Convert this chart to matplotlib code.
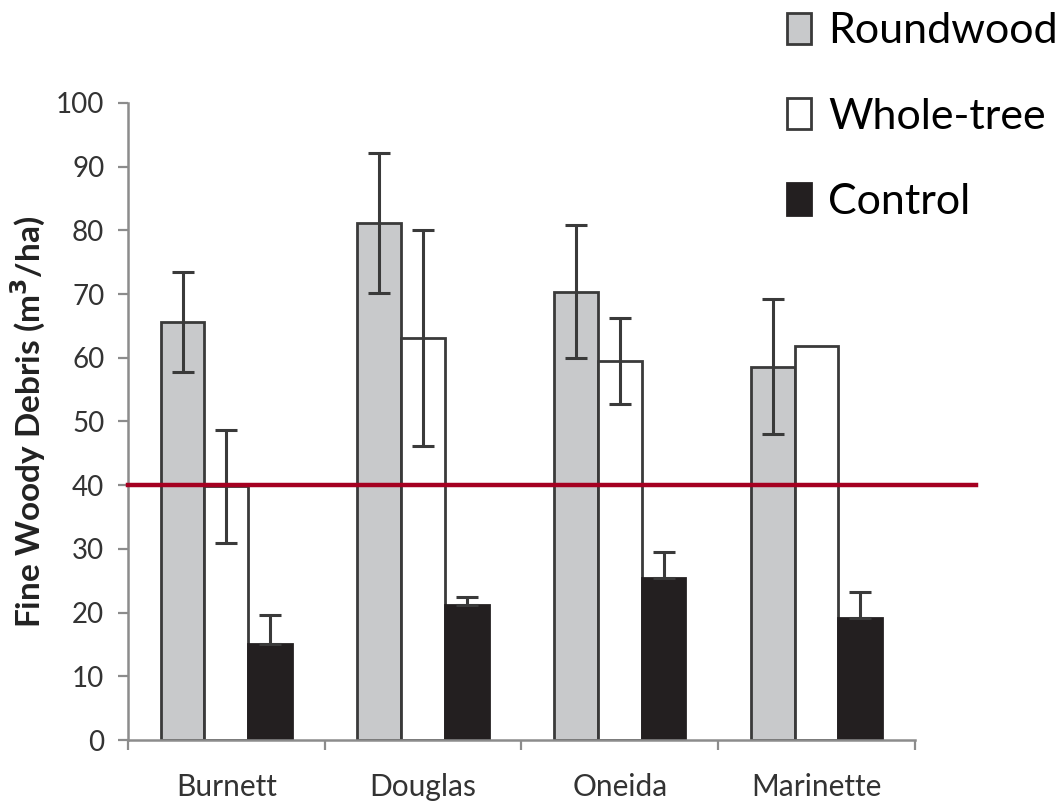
import numpy as np
import matplotlib.pyplot as plt

counties = ["Burnett", "Douglas", "Oneida", "Marinette"]
roundwood = [65.6, 81.2, 70.4, 58.6]
roundwood_err = [7.8, 11.0, 10.4, 10.6]
whole_tree = [39.8, 63.1, 59.5, 61.9]
whole_tree_err = [8.9, 17.0, 6.8, 0.0]
control = [15.1, 21.2, 25.4, 19.1]
control_err = [4.6, 1.2, 4.1, 4.1]
target_level = 40
y_ticks = list(range(0, 101, 10))

plt.rcParams["font.family"] = ["Lato", "DejaVu Sans"]

fig = plt.figure(figsize=(10.62, 8.07), dpi=100)
ax = fig.add_axes([0.1205, 0.083, 0.741, 0.7894])

x = np.arange(len(counties))
w = 1 / 4.5
edge = "#3a3a3a"
err_kw = dict(ecolor=edge, elinewidth=2.2, capsize=8, capthick=2.2)

ax.bar(x - w, roundwood, w, yerr=roundwood_err, color="#c8c9cb",
       edgecolor=edge, linewidth=2, label="Roundwood", error_kw=err_kw)
wt_err = [e if e > 0 else np.nan for e in whole_tree_err]
ax.bar(x, whole_tree, w, yerr=wt_err, color="white",
       edgecolor=edge, linewidth=2, label="Whole-tree", error_kw=err_kw)
# lower half of the control whiskers disappears into the black bars
ctrl_err = [np.zeros(len(control_err)), control_err]
ax.bar(x + w, control, w, yerr=ctrl_err, color="#231f20",
       edgecolor="#231f20", linewidth=2, label="Control", error_kw=err_kw)

# reference level runs past the right end of the axis
ax.plot([-0.5, 3.81], [target_level, target_level], color="#a50021",
        linewidth=3.2, clip_on=False, zorder=5)

ax.set_xlim(-0.5, 3.5)
ax.set_ylim(0, 100)
ax.set_yticks(y_ticks)
ax.set_yticklabels([str(t) for t in y_ticks], fontsize=20, color="#333333")

ax.set_xticks(np.arange(-0.5, 4, 1))
ax.set_xticklabels([])
ax.set_xticks(x, minor=True)
ax.set_xticklabels(counties, minor=True, fontsize=21.5, color="#333333")
ax.tick_params(axis="x", which="minor", length=0, pad=24)
ax.tick_params(axis="x", which="major", length=7, width=1.6, color="#8c8c8c")
ax.tick_params(axis="y", length=7, width=1.6, color="#8c8c8c", pad=10)

for side in ["top", "right"]:
    ax.spines[side].set_visible(False)
for side in ["left", "bottom"]:
    ax.spines[side].set_color("#8c8c8c")
    ax.spines[side].set_linewidth(1.8)

ax.set_ylabel("Fine Woody Debris (m$^\\mathbf{3}$/ha)", fontsize=24,
              fontweight="bold", color="#222222", labelpad=6)

ax.legend(loc="upper left", bbox_to_anchor=(0.725, 1.006),
          bbox_transform=fig.transFigure, frameon=False, fontsize=31,
          labelspacing=1.1, handlelength=0.55, handleheight=0.75,
          handletextpad=0.4, borderaxespad=0)

fig.savefig("out.png", dpi=100)
